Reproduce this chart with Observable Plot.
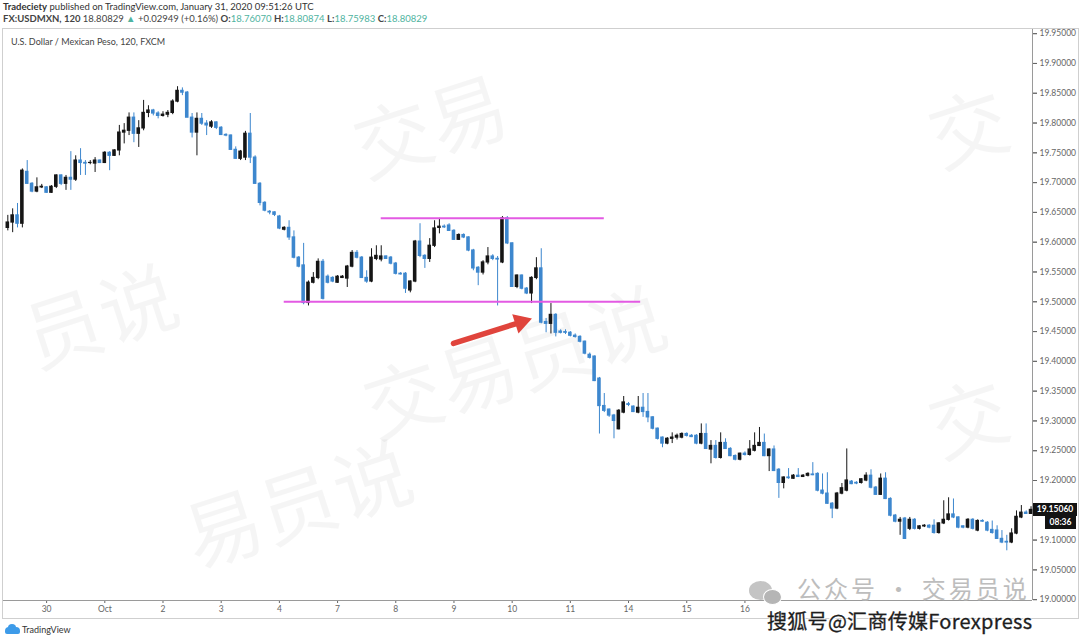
<!DOCTYPE html>
<html>
<head>
<meta charset="utf-8">
<script src="https://cdn.jsdelivr.net/npm/d3@7"></script>
<script src="https://cdn.jsdelivr.net/npm/@observablehq/plot@0.6"></script>
<style>
  body { margin: 0; background: #fff; font-family: Lato, "Open Sans", sans-serif; }
  #wrap { position: relative; width: 1080px; height: 642px; overflow: hidden; background: #fff; }
  .hdr1 { position: absolute; left: 3px; top: 1px; font-size: 9.5px; color: #333; white-space: nowrap; }
  .hdr2 { position: absolute; left: 3px; top: 13px; font-size: 9.5px; color: #444; white-space: nowrap; }
  .teal { color: #4fb3a0; }
  #panel { position: absolute; left: 2px; top: 28px; width: 1075px; height: 589px; border: 1px solid #cfcfcf; }
  #panel svg { position: absolute; left: 0; top: 0; }
  .sym { position: absolute; left: 8px; top: 7px; font-size: 9px; color: #444; white-space: nowrap; }
  .wm { position: absolute; font-family: "Noto Sans CJK SC", sans-serif; color: rgba(0,0,0,0.04); font-size: 78px; line-height: 1; white-space: nowrap; transform: rotate(-18deg); transform-origin: left top; pointer-events: none; }
  .pricebox { position: absolute; background: #131313; color: #fff; font-size: 8.5px; font-weight: bold; line-height: 13px; text-align: center; }
  .foot { position: absolute; left: 22px; top: 624px; font-size: 9px; color: #333; }
  .logo1 { position: absolute; left: 5px; top: 627px; width: 15px; height: 7px; background: #3d9be9; border-radius: 4px 4px 2px 2px; }
  .logo2 { position: absolute; left: 8px; top: 624px; width: 8px; height: 7px; background: #3d9be9; border-radius: 50%; }
  .wx1 { position: absolute; left: 749px; top: 581px; width: 23px; height: 19px; background: #c4c4c4; border-radius: 50%; }
  .wx2 { position: absolute; left: 763px; top: 589px; width: 17px; height: 14px; background: #b5b5b5; border-radius: 50%; border: 1px solid #fff; }
  .gzh { position: absolute; left: 797px; top: 570px; font-family: "Noto Sans CJK SC", sans-serif; font-size: 24px; line-height: 35px; color: #bdbdbd; white-space: nowrap; letter-spacing: 3px; }
  .sohu { position: absolute; left: 767px; top: 606px; font-family: "Noto Sans CJK SC", sans-serif; font-size: 20px; line-height: 29px; color: #1e1e1e; white-space: nowrap; letter-spacing: 0.3px; -webkit-text-stroke: 0.3px #1e1e1e; text-shadow: 0 0 2px #fff, 0 0 2px #fff, 1px 1px 0 #fff, -1px -1px 0 #fff; }
</style>
</head>
<body>
<div id="wrap">
  <div class="hdr1"><b>Tradeciety</b> published on TradingView.com, January 31, 2020 09:51:26 UTC</div>
  <div class="hdr2"><b>FX:USDMXN, 120</b> 18.80829 <span class="teal">▲</span> +0.02949 (+0.16%) <b>O:</b><span class="teal">18.76070</span> <b>H:</b><span class="teal">18.80874</span> <b>L:</b><span class="teal">18.75983</span> <b>C:</b><span class="teal">18.80829</span></div>
  <div id="panel">
    <div class="wm" style="left:340px;top:80px;">交易</div>
    <div class="wm" style="left:915px;top:70px;">交</div>
    <div class="wm" style="left:10px;top:270px;">员说</div>
    <div class="wm" style="left:350px;top:340px;">交易员说</div>
    <div class="wm" style="left:915px;top:360px;">交</div>
    <div class="wm" style="left:170px;top:470px;">易员说</div>
    <div class="sym">U.S. Dollar / Mexican Peso, 120, FXCM</div>
  </div>
  <div class="logo2"></div><div class="logo1"></div>
  <div class="foot">TradingView</div>
</div>
<script>
// ---- data (USD/MXN, 120-minute candles) ----
const dayLabels   = ["30","Oct","2","3","4","7","8","9","10","11","14","15","16"];
const dayStartBar = [8,20,32,44,56,68,80,92,104,116,128,140,152];
const priceTicks  = [19.00,19.05,19.10,19.15,19.20,19.25,19.30,19.35,19.40,19.45,19.50,19.55,19.60,19.65,19.70,19.75,19.80,19.85,19.90,19.95];

const open = [
19.624,19.633,19.645,19.631,19.718,19.698,19.685,19.692,19.692,19.683,19.693,19.712,19.698,19.708,19.705,19.737,19.733,19.733,19.732,19.737,
19.733,19.750,19.745,19.754,19.784,19.787,19.809,19.782,19.791,19.817,19.821,19.816,19.812,19.814,19.817,19.836,19.854,19.851,19.809,19.784,
19.807,19.799,19.794,19.801,19.792,19.780,19.779,19.755,19.740,19.742,19.782,19.742,19.698,19.666,19.651,19.650,19.643,19.621,19.624,19.608,
19.574,19.561,19.498,19.532,19.540,19.567,19.542,19.540,19.532,19.540,19.539,19.559,19.582,19.574,19.540,19.534,19.572,19.571,19.576,19.574,
19.564,19.547,19.547,19.519,19.534,19.601,19.577,19.572,19.594,19.624,19.626,19.628,19.619,19.604,19.612,19.608,19.586,19.557,19.549,19.566,
19.576,19.572,19.566,19.640,19.598,19.525,19.544,19.522,19.514,19.540,19.556,19.466,19.463,19.478,19.450,19.449,19.448,19.443,19.441,19.433,
19.411,19.408,19.371,19.325,19.319,19.309,19.286,19.314,19.328,19.324,19.314,19.322,19.315,19.306,19.287,19.272,19.262,19.270,19.272,19.272,
19.278,19.275,19.275,19.262,19.278,19.252,19.258,19.238,19.263,19.253,19.241,19.235,19.245,19.243,19.250,19.258,19.263,19.241,19.252,19.218,
19.196,19.205,19.203,19.208,19.206,19.208,19.210,19.211,19.183,19.178,19.161,19.153,19.178,19.183,19.198,19.196,19.196,19.200,19.208,19.188,
19.176,19.203,19.169,19.141,19.131,19.136,19.119,19.134,19.119,19.123,19.124,19.124,19.112,19.128,19.134,19.143,19.138,19.123,19.121,19.134,
19.116,19.132,19.129,19.117,19.116,19.102,19.097,19.096,19.111,19.138,19.146,19.144];
const high = [
19.645,19.656,19.665,19.723,19.737,19.700,19.708,19.697,19.693,19.695,19.713,19.713,19.712,19.752,19.745,19.757,19.737,19.737,19.742,19.738,
19.752,19.752,19.755,19.796,19.799,19.817,19.817,19.804,19.838,19.829,19.823,19.819,19.819,19.821,19.839,19.861,19.859,19.853,19.816,19.817,
19.816,19.804,19.804,19.802,19.794,19.782,19.780,19.760,19.754,19.786,19.816,19.745,19.700,19.668,19.653,19.651,19.645,19.626,19.636,19.619,
19.576,19.598,19.535,19.549,19.572,19.571,19.545,19.542,19.544,19.544,19.561,19.586,19.586,19.576,19.552,19.589,19.594,19.594,19.577,19.576,
19.566,19.549,19.549,19.535,19.603,19.631,19.579,19.606,19.636,19.640,19.629,19.631,19.621,19.614,19.614,19.609,19.588,19.559,19.569,19.591,
19.579,19.576,19.643,19.643,19.599,19.545,19.545,19.524,19.542,19.574,19.589,19.472,19.497,19.480,19.453,19.453,19.450,19.446,19.443,19.434,
19.414,19.409,19.373,19.346,19.320,19.311,19.319,19.341,19.331,19.325,19.341,19.346,19.346,19.307,19.288,19.273,19.272,19.280,19.278,19.280,
19.280,19.277,19.277,19.295,19.295,19.267,19.267,19.280,19.270,19.255,19.243,19.246,19.248,19.267,19.280,19.289,19.278,19.253,19.258,19.220,
19.206,19.220,19.210,19.220,19.210,19.213,19.230,19.213,19.211,19.213,19.163,19.180,19.195,19.253,19.200,19.198,19.203,19.213,19.218,19.190,
19.211,19.213,19.171,19.143,19.138,19.138,19.138,19.136,19.124,19.126,19.126,19.134,19.129,19.166,19.171,19.169,19.139,19.124,19.136,19.136,
19.134,19.134,19.131,19.132,19.124,19.116,19.108,19.119,19.149,19.158,19.149,19.156];
const low = [
19.619,19.616,19.624,19.624,19.697,19.683,19.683,19.690,19.682,19.682,19.690,19.695,19.687,19.687,19.702,19.712,19.712,19.730,19.717,19.732,
19.732,19.720,19.744,19.745,19.765,19.779,19.767,19.759,19.787,19.809,19.812,19.807,19.810,19.809,19.814,19.834,19.846,19.809,19.775,19.745,
19.796,19.779,19.791,19.789,19.779,19.777,19.754,19.739,19.737,19.737,19.732,19.697,19.661,19.651,19.646,19.643,19.621,19.619,19.603,19.572,
19.557,19.495,19.493,19.530,19.537,19.503,19.530,19.532,19.531,19.539,19.524,19.557,19.572,19.539,19.531,19.532,19.569,19.567,19.571,19.562,
19.545,19.545,19.514,19.515,19.532,19.574,19.556,19.566,19.591,19.614,19.623,19.618,19.603,19.603,19.606,19.584,19.552,19.527,19.545,19.562,
19.569,19.493,19.564,19.596,19.524,19.522,19.520,19.512,19.497,19.537,19.463,19.448,19.446,19.441,19.446,19.445,19.441,19.439,19.431,19.411,
19.404,19.366,19.278,19.314,19.306,19.270,19.285,19.312,19.324,19.314,19.312,19.306,19.297,19.285,19.268,19.255,19.260,19.262,19.268,19.270,
19.273,19.272,19.260,19.260,19.252,19.228,19.236,19.236,19.252,19.240,19.233,19.233,19.241,19.241,19.248,19.257,19.240,19.215,19.215,19.170,
19.186,19.202,19.202,19.205,19.205,19.206,19.208,19.181,19.176,19.160,19.136,19.151,19.176,19.181,19.193,19.193,19.194,19.198,19.186,19.175,
19.175,19.168,19.139,19.129,19.108,19.101,19.116,19.117,19.117,19.121,19.119,19.110,19.110,19.126,19.132,19.136,19.119,19.119,19.119,19.117,
19.114,19.130,19.114,19.110,19.101,19.094,19.082,19.094,19.109,19.136,19.143,19.143];
const close = [
19.633,19.645,19.631,19.720,19.698,19.685,19.692,19.693,19.683,19.693,19.712,19.698,19.708,19.705,19.737,19.733,19.732,19.733,19.737,19.733,
19.750,19.745,19.754,19.784,19.787,19.809,19.782,19.791,19.817,19.821,19.816,19.812,19.814,19.817,19.836,19.854,19.851,19.809,19.784,19.807,
19.799,19.796,19.801,19.792,19.780,19.779,19.755,19.740,19.752,19.782,19.742,19.698,19.666,19.653,19.650,19.646,19.623,19.624,19.608,19.574,
19.559,19.498,19.532,19.540,19.567,19.505,19.532,19.534,19.542,19.542,19.559,19.582,19.574,19.540,19.534,19.574,19.577,19.576,19.572,19.564,
19.547,19.546,19.522,19.534,19.601,19.577,19.572,19.594,19.623,19.626,19.625,19.619,19.604,19.612,19.608,19.586,19.556,19.549,19.566,19.576,
19.572,19.571,19.640,19.598,19.525,19.544,19.522,19.514,19.540,19.556,19.465,19.463,19.478,19.448,19.448,19.448,19.443,19.441,19.433,19.413,
19.406,19.367,19.325,19.317,19.309,19.300,19.317,19.331,19.327,19.315,19.322,19.315,19.306,19.287,19.270,19.262,19.270,19.272,19.275,19.278,
19.275,19.273,19.262,19.278,19.253,19.258,19.238,19.263,19.253,19.241,19.235,19.245,19.243,19.252,19.258,19.263,19.241,19.252,19.216,19.196,
19.205,19.204,19.208,19.206,19.208,19.211,19.209,19.183,19.178,19.161,19.153,19.178,19.187,19.200,19.194,19.195,19.202,19.208,19.188,19.176,
19.203,19.169,19.141,19.131,19.134,19.102,19.134,19.119,19.123,19.124,19.121,19.112,19.128,19.134,19.143,19.138,19.121,19.121,19.134,19.119,
19.132,19.131,19.116,19.112,19.102,19.096,19.096,19.111,19.139,19.146,19.144,19.1506];

// annotations drawn on the chart (price levels and arrow, in bar-index / price units)
const levelPrice = [19.640, 19.500];
const levelFrom  = [77, 57];
const levelTo    = [123, 130.5];
const arrowTail  = {bar: 91.9, price: 19.430};
const arrowBase  = {bar: 104.7, price: 19.463};
const arrowHead  = {bar: 105.8, price: 19.466};
const lastTime   = "08:36";

// ---- build ----
const xDomain = [-0.89, 211.3];
const yDomain = [18.9986, 19.957];
const UP = "#151515", DOWN = "#3d87ce";
const lastClose = close[close.length - 1];
const bars = close.map((c, i) => ({i, o: open[i], h: high[i], l: low[i], c, up: c >= open[i]}));
const upBars = bars.filter(d => d.up), dnBars = bars.filter(d => !d.up);
const levels = levelPrice.map((p, k) => ({price: p, from: levelFrom[k], to: levelTo[k]}));
// the last-price badge hides the axis label it sits on
const labelTicks = priceTicks.filter(t => Math.abs(t - lastClose) > 0.01);

function candleMarks(data, col) {
  return [
    Plot.ruleX(data, {x: "i", y1: "l", y2: "h", stroke: col, strokeWidth: 1}),
    Plot.rect(data, {x1: d => d.i - 0.37, x2: d => d.i + 0.37,
      y1: d => Math.min(d.o, d.c), y2: d => Math.max(d.o, d.c),
      fill: col, insetTop: -0.6, insetBottom: -0.6})
  ];
}

const chart = Plot.plot({
  width: 1075, height: 589,
  marginLeft: 0, marginRight: 46, marginTop: 0, marginBottom: 18,
  style: {fontFamily: "Lato, 'Open Sans', sans-serif", fontSize: "8.5px", background: "transparent", overflow: "visible"},
  x: {domain: xDomain},
  y: {domain: yDomain},
  marks: [
    Plot.axisY(priceTicks, {anchor: "right", tickSize: 4, text: null, label: null, color: "#777"}),
    Plot.axisY(labelTicks, {anchor: "right", tickFormat: d3.format(".5f"), tickSize: 4, tickPadding: 3,
      label: null, color: "#666", fontSize: 8.5}),
    Plot.axisX(dayStartBar, {anchor: "bottom", tickFormat: d => dayLabels[dayStartBar.indexOf(d)],
      tickSize: 3, tickPadding: 2, label: null, color: "#666", fontSize: 8.5}),
    Plot.ruleX([xDomain[1]], {stroke: "#9a9a9a"}),
    Plot.ruleY([yDomain[0]], {stroke: "#9a9a9a"}),
    ...candleMarks(upBars, UP),
    ...candleMarks(dnBars, DOWN),
    Plot.ruleY(levels, {y: "price", x1: "from", x2: "to", stroke: "#e35ae3", strokeWidth: 2}),
    Plot.link([0], {x1: () => arrowTail.bar, y1: () => arrowTail.price,
      x2: () => arrowBase.bar, y2: () => arrowBase.price,
      stroke: "#e0443c", strokeWidth: 5.5, strokeLinecap: "round"}),
    Plot.dot([arrowHead], {x: "bar", y: "price", symbol: "triangle", r: 7.5, rotate: 72,
      fill: "#e0443c", stroke: "none"})
  ]
});

const panel = document.getElementById("panel");
panel.insertBefore(chart, panel.querySelector(".sym"));

// last-price label on the price axis
const yScale = chart.scale("y");
const yLast = yScale.apply(lastClose);
const wrap = document.getElementById("wrap");
const pb = document.createElement("div");
pb.className = "pricebox";
pb.style.left = "1033px"; pb.style.width = "44px";
pb.style.top = (29 + yLast - 6.5) + "px";
pb.textContent = d3.format(".5f")(lastClose);
wrap.appendChild(pb);
const tb = document.createElement("div");
tb.className = "pricebox";
tb.style.left = "1045px"; tb.style.width = "31px";
tb.style.top = (29 + yLast + 6.5) + "px";
tb.textContent = lastTime;
wrap.appendChild(tb);

// bottom-right watermark
for (const [cls, txt] of [["wx1",""],["wx2",""],["gzh","公众号 · 交易员说"],["sohu","搜狐号@汇商传媒Forexpress"]]) {
  const el = document.createElement("div");
  el.className = cls; el.textContent = txt;
  wrap.appendChild(el);
}
</script>
</body>
</html>
